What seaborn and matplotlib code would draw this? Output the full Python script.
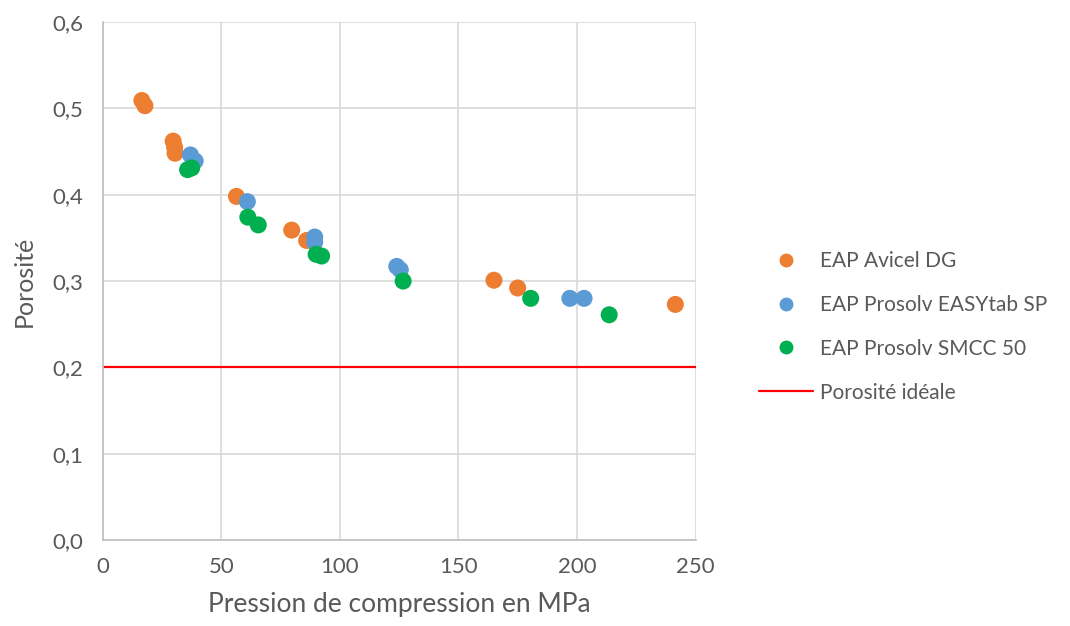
import numpy as np
import pandas as pd
import seaborn as sns
import matplotlib.pyplot as plt
from matplotlib.ticker import FuncFormatter, MultipleLocator
from matplotlib.lines import Line2D

# valeurs
avicel_x = [16.5, 17.8, 29.7, 30.3, 30.5, 56.4, 79.7, 86.0, 165.0, 175.0, 241.5]
avicel_y = [0.509, 0.503, 0.462, 0.455, 0.448, 0.398, 0.359, 0.347, 0.301, 0.292, 0.273]

easytab_x = [37.0, 39.0, 61.0, 89.4, 89.4, 124.0, 125.5, 197.0, 203.0]
easytab_y = [0.446, 0.439, 0.392, 0.351, 0.345, 0.317, 0.313, 0.280, 0.280]

smcc_x = [35.8, 37.5, 61.2, 65.6, 90.0, 92.3, 126.7, 180.5, 213.6]
smcc_y = [0.429, 0.431, 0.374, 0.365, 0.331, 0.329, 0.300, 0.280, 0.261]

series = ["EAP Avicel DG", "EAP Prosolv EASYtab SP", "EAP Prosolv SMCC 50"]
colors = ["#ED7D31", "#5B9BD5", "#00B050"]
porosite_ideale = 0.2

df = pd.concat([
    pd.DataFrame({"x": avicel_x, "y": avicel_y, "serie": series[0]}),
    pd.DataFrame({"x": easytab_x, "y": easytab_y, "serie": series[1]}),
    pd.DataFrame({"x": smcc_x, "y": smcc_y, "serie": series[2]}),
])

sns.set_style("white")
plt.rcParams['font.family'] = ['Lato', 'DejaVu Sans']
txt = "#595959"

fig = plt.figure(figsize=(10.7, 6.26), dpi=100)
ax = fig.add_axes([0.096, 0.137, 0.554, 0.828])

sns.scatterplot(data=df, x="x", y="y", hue="serie", palette=colors,
                s=150, edgecolor="none", legend=False, ax=ax, zorder=3)
ax.axhline(porosite_ideale, color="#FF0000", lw=1.6, zorder=2)

ax.set_xlim(0, 250)
ax.set_ylim(0, 0.6)
ax.xaxis.set_major_locator(MultipleLocator(50))
ax.yaxis.set_major_locator(MultipleLocator(0.1))
ax.yaxis.set_major_formatter(FuncFormatter(lambda v, p: f"{v:.1f}".replace(".", ",")))
ax.grid(True, color="#D9D9D9", lw=1.2)
ax.set_axisbelow(True)
for s in ["top", "right"]:
    ax.spines[s].set_visible(False)
for s in ["left", "bottom"]:
    ax.spines[s].set_color("#BFBFBF")
    ax.spines[s].set_linewidth(1.2)
ax.tick_params(colors=txt, labelsize=16, length=0)
ax.tick_params(axis="y", pad=14)
ax.tick_params(axis="x", pad=12)
ax.set_xlabel("Pression de compression en MPa", fontsize=19, color=txt, labelpad=11)
ax.set_ylabel("Porosité", fontsize=18, color=txt, labelpad=12)

handles = [Line2D([], [], ls="none", marker="o", ms=10, color=c, mec="none") for c in colors]
handles.append(Line2D([], [], color="#FF0000", lw=1.6))
labels = series + ["Porosité idéale"]
fig.legend(handles, labels, loc="center left", bbox_to_anchor=(0.692, 0.478),
           frameon=False, fontsize=15, labelcolor=txt, labelspacing=1.15,
           handlelength=2.6, handletextpad=0.3)

plt.savefig("out.png", dpi=100)
